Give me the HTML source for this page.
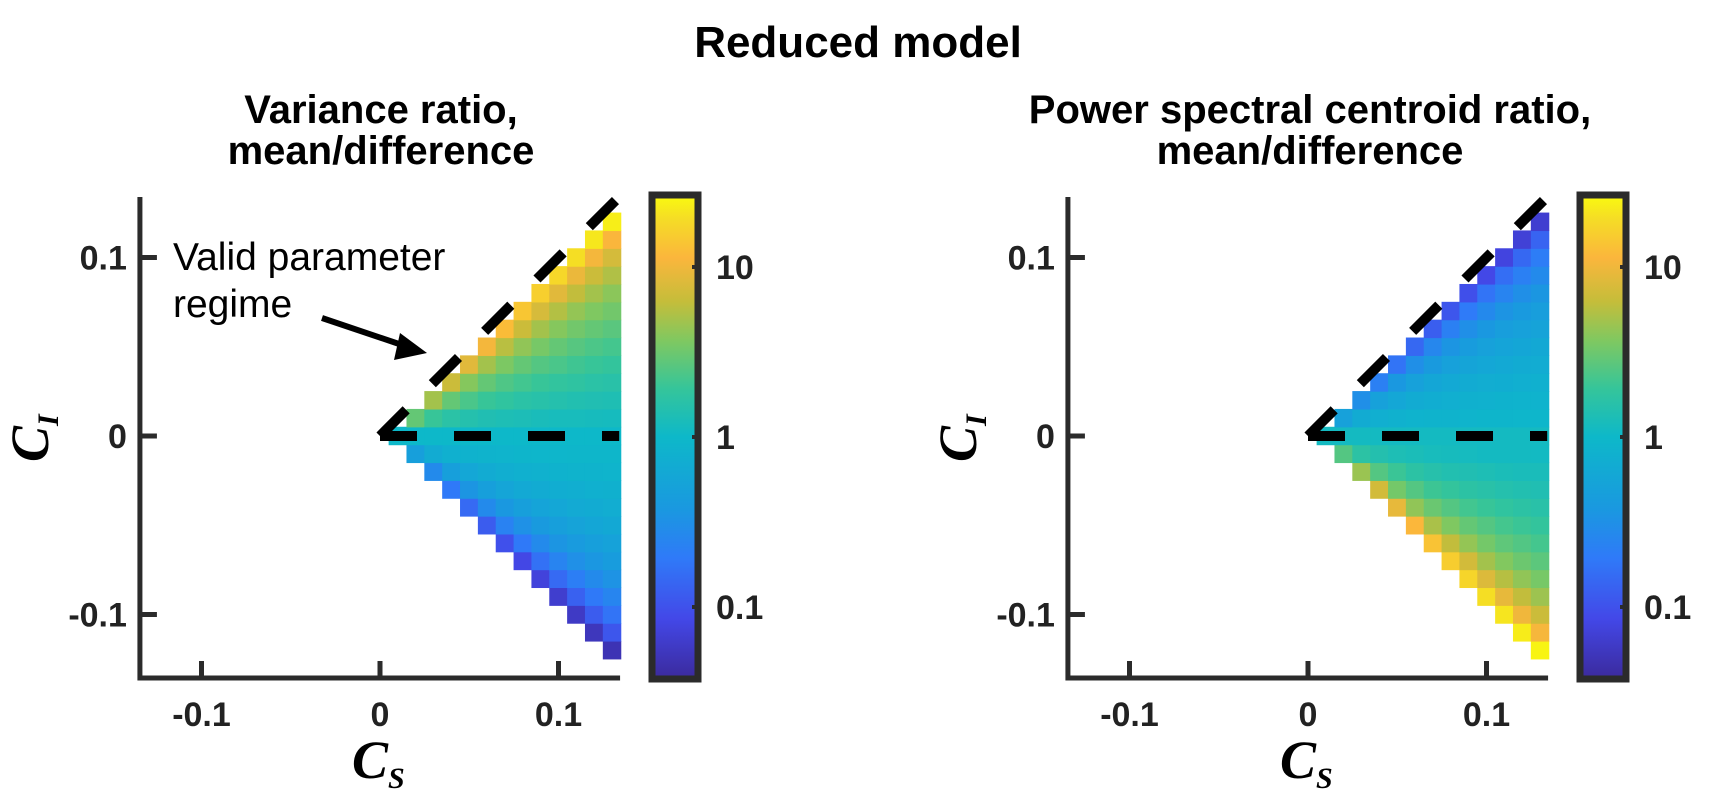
<!DOCTYPE html>
<html><head><meta charset="utf-8"><style>
html,body{margin:0;padding:0;background:#fff;}
svg{display:block;}
text{font-family:"Liberation Sans",sans-serif;}
text.serif{font-family:"Liberation Serif",serif;font-style:italic;}
</style></head><body>
<svg id="fig" width="1716" height="812" viewBox="0 0 1716 812" xmlns="http://www.w3.org/2000/svg">
<text x="858" y="57" text-anchor="middle" font-size="44" font-weight="bold" fill="#000">Reduced model</text>
<g id="p1"></g>
<g id="p2"></g>
</svg>
<script>
// C_S grid values (column j => cs = j*0.01), C_I rows k from -(j-1)..(j-1)
const csValues = [0.01,0.02,0.03,0.04,0.05,0.06,0.07,0.08,0.09,0.10,0.11,0.12,0.13];
const gridStep = 0.01;
const xTicks = [-0.1, 0, 0.1];
const xTickLabels = ["-0.1","0","0.1"];
const yTicks = [0.1, 0, -0.1];
const yTickLabels = ["0.1","0","-0.1"];
const cbarTicks = [1, 0, -1];
const cbarTickLabels = ["10","1","0.1"];
// log10 values, panel 1 (variance ratio)
const varianceLog = [
[0],
[-.33,0,.46],
[-.55,-.17,0,.29,.68],
[-.71,-.33,-.11,0,.21,.46,.82],
[-.82,-.45,-.23,-.08,0,.17,.36,.58,.92],
[-.92,-.55,-.33,-.17,-.06,0,.14,.29,.46,.68,1.01],
[-1.0,-.63,-.42,-.25,-.13,-.05,0,.12,.25,.38,.55,.75,1.08],
[-1.07,-.71,-.49,-.33,-.2,-.11,-.04,0,.11,.21,.33,.46,.62,.82,1.14],
[-1.12,-.77,-.55,-.39,-.27,-.17,-.09,-.03,0,.09,.19,.29,.4,.53,.68,.87,1.19],
[-1.18,-.82,-.61,-.45,-.33,-.23,-.14,-.08,-.03,0,.08,.17,.26,.36,.46,.58,.73,.92,1.24],
[-1.22,-.88,-.67,-.5,-.38,-.28,-.19,-.13,-.06,-.02,0,.08,.15,.24,.32,.41,.51,.63,.78,.97,1.28],
[-1.26,-.92,-.71,-.55,-.43,-.33,-.24,-.17,-.11,-.06,-.02,0,.07,.14,.21,.29,.37,.46,.56,.68,.82,1.01,1.32],
[-1.3,-.96,-.75,-.6,-.47,-.37,-.29,-.21,-.15,-.1,-.05,-.02,0,.065,.13,.2,.27,.34,.42,.51,.6,.72,.86,1.04,1.35]
];
// log10 values, panel 2 (power spectral centroid ratio)
const centroidLog = [
[.05],
[.4,.05,-.31],
[.65,.22,.05,-.17,-.51],
[.85,.4,.16,.05,-.12,-.31,-.65],
[.95,.52,.3,.12,.05,-.09,-.23,-.42,-.75],
[1.05,.62,.4,.22,.1,.05,-.07,-.17,-.31,-.51,-.83],
[1.12,.7,.48,.31,.18,.08,.05,-.06,-.14,-.24,-.39,-.58,-.9],
[1.18,.78,.56,.4,.27,.15,.07,.05,-.06,-.12,-.2,-.31,-.45,-.65,-.96],
[1.23,.85,.63,.46,.33,.22,.14,.06,.05,-.05,-.1,-.17,-.26,-.37,-.51,-.7,-1.01],
[1.28,.9,.68,.52,.4,.29,.2,.12,.05,.05,-.04,-.09,-.15,-.23,-.31,-.42,-.56,-.75,-1.06],
[1.31,.95,.74,.57,.44,.34,.25,.17,.1,.05,.05,-.04,-.08,-.14,-.2,-.27,-.35,-.46,-.61,-.79,-1.1],
[1.34,.99,.78,.62,.49,.39,.3,.22,.15,.09,.05,.05,-.03,-.07,-.12,-.17,-.24,-.31,-.4,-.51,-.65,-.83,-1.14],
[1.38,1.02,.82,.66,.53,.43,.34,.27,.2,.14,.09,.04,.05,-.03,-.07,-.11,-.16,-.21,-.28,-.35,-.44,-.55,-.68,-.86,-1.17]
];
const NS="http://www.w3.org/2000/svg";
const CMIN=-1.41, CMAX=1.41;
const stops=[[0,[59,42,156]],[0.125,[67,72,232]],[0.25,[47,122,248]],[0.35,[26,152,224]],[0.5,[13,184,201]],[0.6,[53,197,154]],[0.7,[128,200,96]],[0.78,[197,189,58]],[0.87,[251,182,60]],[0.95,[245,220,38]],[1,[249,251,14]]];
function cmap(v){let t=(v-CMIN)/(CMAX-CMIN);t=Math.max(0,Math.min(1,t));
 for(let i=1;i<stops.length;i++){if(t<=stops[i][0]){const a=stops[i-1],b=stops[i];const f=(t-a[0])/(b[0]-a[0]);
 const c=a[1].map((x,k)=>Math.round(x+(b[1][k]-x)*f));return `rgb(${c[0]},${c[1]},${c[2]})`;}}return "rgb(249,251,14)";}
function mk(tag,attrs,parent){const e=document.createElementNS(NS,tag);for(const k in attrs)e.setAttribute(k,attrs[k]);parent.appendChild(e);return e;}
const PX=1785;
function build(g,ox,values,t1,t2,cx){
 const X=v=>ox+v*PX, Y=v=>436-v*PX;
 const left=X(-0.1345), right=X(0.1345), top=197, bottom=678;
 let e;
 e=mk("text",{x:cx,y:123,"text-anchor":"middle","font-size":40,"font-weight":"bold",fill:"#000"},g);e.textContent=t1;
 
 
 e=mk("text",{x:cx,y:164,"text-anchor":"middle","font-size":40,"font-weight":"bold",fill:"#000"},g);e.textContent=t2;
 
 
 const hm=mk("g",{},g);
 
 
 const w=gridStep*PX;
 values.forEach((col,ji)=>{const cs=csValues[ji];const n=(col.length-1)/2;
  col.forEach((v,idx)=>{const ci=(idx-n)*gridStep;
   const r=mk("rect",{x:X(cs-gridStep/2)-0.3,y:Y(ci+gridStep/2)-0.3,width:w+0.6,height:w+0.6,fill:cmap(v)},hm);
   
   
  });});
 e=mk("line",{x1:X(0),y1:Y(0),x2:X(0.134),y2:Y(0),stroke:"#000","stroke-width":10,"stroke-dasharray":"37 37"},g);
 
 
 e=mk("line",{x1:X(0),y1:Y(0),x2:X(0.1345),y2:Y(0.1345),stroke:"#000","stroke-width":10,"stroke-dasharray":"37 37"},g);
 
 
 e=mk("path",{d:`M${left} ${top} V${bottom} H${right}`,fill:"none",stroke:"#2b2b2b","stroke-width":5},g);
 
 
 xTicks.forEach((t,i)=>{mk("line",{x1:X(t),y1:bottom,x2:X(t),y2:bottom-17,stroke:"#2b2b2b","stroke-width":5},g);
  const tx=mk("text",{x:X(t),y:726,"text-anchor":"middle","font-size":34,"font-weight":"bold",fill:"#222"},g);tx.textContent=xTickLabels[i];
  
  });
 yTicks.forEach((t,i)=>{mk("line",{x1:left,y1:Y(t),x2:left+17,y2:Y(t),stroke:"#2b2b2b","stroke-width":5},g);
  const tx=mk("text",{x:left-13,y:Y(t)+12,"text-anchor":"end","font-size":34,"font-weight":"bold",fill:"#222"},g);tx.textContent=yTickLabels[i];
  
  });
 e=mk("text",{x:0,y:0,class:"serif",transform:`translate(${left-92},462) rotate(-90)`,"font-size":54,"font-weight":"bold",fill:"#000"},g);
 e.innerHTML='C<tspan font-size="30" dy="10">I</tspan>';
 
 
 e=mk("text",{x:X(0)-28,y:778,class:"serif","font-size":54,"font-weight":"bold",fill:"#000"},g);
 e.innerHTML='C<tspan font-size="30" dy="10">S</tspan>';
 
 
 const cbx=ox+272, cbw=46;
 const defs=mk("defs",{},g);const gid="grad"+ox;
 const lg=mk("linearGradient",{id:gid,x1:0,y1:1,x2:0,y2:0},defs);
 stops.forEach(s=>mk("stop",{offset:s[0],"stop-color":`rgb(${s[1].join(",")})`},lg));
 const cb=mk("rect",{x:cbx,y:195,width:cbw,height:484,fill:`url(#${gid})`,stroke:"#2b2b2b","stroke-width":7},g);
 
 
 const CY=v=>437-v*170;
 cbarTicks.forEach((t,i)=>{mk("line",{x1:cbx+cbw-6,y1:CY(t),x2:cbx+cbw,y2:CY(t),stroke:"#2b2b2b","stroke-width":4},g);
  const tx=mk("text",{x:cbx+cbw+18,y:CY(t)+12,"font-size":34,"font-weight":"bold",fill:"#222"},g);tx.textContent=cbarTickLabels[i];
  
  });
}
build(document.getElementById("p1"),380,varianceLog,"Variance ratio,","mean/difference",381);
build(document.getElementById("p2"),1308,centroidLog,"Power spectral centroid ratio,","mean/difference",1310);
const p1=document.getElementById("p1");
let a=mk("text",{x:173,y:270,"font-size":39,fill:"#000"},p1);a.textContent="Valid parameter";


a=mk("text",{x:173,y:317,"font-size":39,fill:"#000"},p1);a.textContent="regime";


a=mk("line",{x1:322,y1:318,x2:408,y2:347,stroke:"#000","stroke-width":6},p1);


a=mk("polygon",{points:"427,353 400,333 394,360",fill:"#000"},p1);


</script>
</body></html>
